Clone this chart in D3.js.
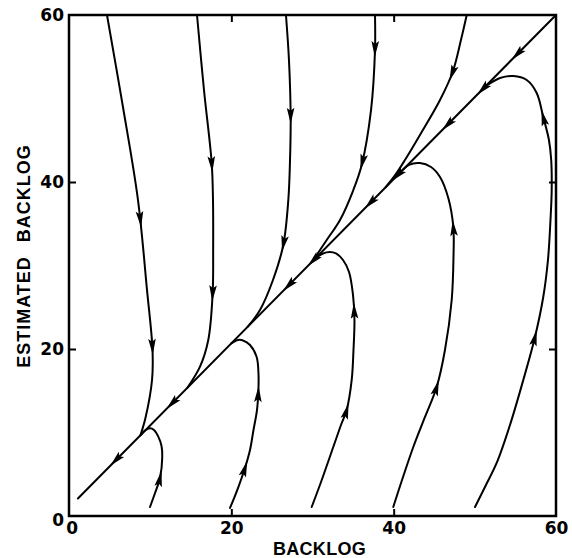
<!DOCTYPE html>
<html><head><meta charset="utf-8">
<script src="https://cdn.jsdelivr.net/npm/d3@7"></script>
<style>body{margin:0;background:#fff}</style>
</head><body><svg id="c" width="572" height="558"></svg>
<script>
// ---- data (BACKLOG, ESTIMATED BACKLOG) ----
const xTickLabels = [0, 20, 40, 60];
const yTickLabels = [0, 20, 40, 60];
const innerTicks = [20, 40];

const diagonal = [[60, 60], [1.1, 2.1]];

const traj1 = [[4.68,60],[6.65,48.98],[8.50,37.84],[9.61,27.07],[10.29,19.88],[10.23,16.29],[9.42,11.74],[8.8,9.67]];
const traj2 = [[15.77,60],[16.63,51.02],[17.58,42.28],[17.74,37.84],[17.76,31.86],[17.70,26.71],[17.16,21.08],[16.14,17.88],[14.6,15.37]];
const traj3 = [[26.73,60],[27.10,54.61],[27.31,47.78],[27.23,42.63],[27.02,37.84],[26.40,32.46],[25.13,28.26],[23.53,24.67],[22.0,22.64]];
const traj4 = [[37.70,60],[37.70,55.81],[37.21,48.62],[36.06,42.04],[35.03,39.04],[33.39,35.45],[31.75,33.05],[30.0,30.5]];
const traj5 = [[49.0,60],[48.29,57.0],[47.27,53.17],[45.71,49.82],[43.24,45.63],[41.39,42.63],[40.2,40.85],[39.0,39.36]];

const loop1 = [[9.98,1.08],[10.60,2.75],[11.21,4.55],[11.49,7.07],[11.40,8.38],[11.00,9.50],[10.47,10.30],[9.98,10.50],[9.36,10.24],[8.8,9.67]];
const loop2 = [[19.84,0.96],[20.82,3.35],[21.68,5.75],[22.30,7.90],[22.73,10.30],[23.16,12.69],[23.32,14.73],[23.35,16.89],[23.12,19.04],[22.30,20.48],[21.44,21.02],[20.82,21.08],[20.0,20.68]];
const loop3 = [[29.90,1.08],[31.05,4.07],[32.56,8.26],[33.51,10.90],[34.21,12.69],[34.83,16.29],[35.05,19.88],[35.17,23.47],[34.99,26.47],[34.50,29.22],[33.76,30.66],[32.89,31.44],[32.15,31.62],[31.29,31.44],[30.3,30.80]];
const loop4 = [[39.95,1.08],[41.03,4.31],[42.42,8.26],[43.86,11.86],[45.30,15.45],[46.32,19.88],[47.15,25.87],[47.37,31.02],[47.35,34.61],[46.73,38.08],[45.71,40.60],[44.60,41.80],[43.24,42.27],[41.89,42.05],[40.6,40.93]];
const loop5 = [[50.02,1.08],[51.37,3.71],[52.69,6.35],[54.33,10.90],[55.97,16.29],[57.41,21.44],[58.43,26.23],[59.01,30.66],[59.32,35.45],[59.47,39.04],[59.41,42.63],[59.13,45.03],[58.43,47.78],[57.62,50.66],[56.39,52.21],[54.74,52.69],[53.10,52.45],[51.3,51.45]];

// arrow positions (travel direction follows point order)
const diagArrows = [[5.67,6.59],[12.65,13.45],[26.98,27.54],[30.06,30.57],[37.08,37.47],[40.41,40.74],[46.57,46.80],[50.88,51.03],[55.19,55.27]];
const arrows1 = [[8.87,35.45],[10.31,20.12]];
const arrows2 = [[17.58,42.04],[17.74,26.59]];
const arrows3 = [[27.29,47.78],[26.40,32.46]];
const arrows4 = [[37.70,55.81],[35.97,42.27]];
const arrows5 = [[47.27,52.93]];
const loopArrows1 = [[11.21,4.55]];
const loopArrows2 = [[21.68,5.75],[23.32,14.73]];
const loopArrows3 = [[34.21,12.69],[35.24,24.67]];
const loopArrows4 = [[45.30,15.45],[47.35,34.61]];
const loopArrows5 = [[57.41,21.44],[58.43,47.78]];

const curves = [
  {pts: diagonal, arrows: diagArrows, linear: true},
  {pts: traj1, arrows: arrows1}, {pts: traj2, arrows: arrows2}, {pts: traj3, arrows: arrows3},
  {pts: traj4, arrows: arrows4}, {pts: traj5, arrows: arrows5},
  {pts: loop1, arrows: loopArrows1}, {pts: loop2, arrows: loopArrows2}, {pts: loop3, arrows: loopArrows3},
  {pts: loop4, arrows: loopArrows4}, {pts: loop5, arrows: loopArrows5}
];

// ---- drawing ----
const svg = d3.select('#c');
const x = d3.scaleLinear().domain([0, 60]).range([69, 556]);
const y = d3.scaleLinear().domain([0, 60]).range([516, 15]);

const tickFont = '"DejaVu Sans", sans-serif';
const titleFont = '"Liberation Sans", Arial, sans-serif';

// inward tick marks on all four sides
svg.append('g').attr('transform', `translate(${x(0)},0)`)
  .call(d3.axisLeft(y).tickValues(innerTicks).tickSize(-7).tickFormat(''))
  .call(g => g.select('.domain').remove());
svg.append('g').attr('transform', `translate(${x(60)},0)`)
  .call(d3.axisRight(y).tickValues(innerTicks).tickSize(-7).tickFormat(''))
  .call(g => g.select('.domain').remove());
svg.append('g').attr('transform', `translate(0,${y(0)})`)
  .call(d3.axisBottom(x).tickValues(innerTicks).tickSize(-7).tickFormat(''))
  .call(g => g.select('.domain').remove());
svg.append('g').attr('transform', `translate(0,${y(60)})`)
  .call(d3.axisTop(x).tickValues(innerTicks).tickSize(-7).tickFormat(''))
  .call(g => g.select('.domain').remove());
svg.selectAll('.tick line').attr('stroke', '#000').attr('stroke-width', 2);

// tick labels
const yl = svg.append('g').attr('transform', `translate(${x(0)},0)`)
  .call(d3.axisLeft(y).tickValues(yTickLabels).tickSize(0).tickPadding(5).tickFormat(d3.format('d')));
yl.select('.domain').remove();
yl.selectAll('text').attr('font-family', tickFont).attr('font-weight', 'bold').attr('font-size', 17).attr('fill', '#000');
yl.selectAll('.tick').filter(d => d === 0).select('text').attr('dy', '0.55em');

const xl = svg.append('g').attr('transform', `translate(0,${y(0)})`)
  .call(d3.axisBottom(x).tickValues(xTickLabels).tickSize(0).tickPadding(6).tickFormat(d3.format('d')));
xl.select('.domain').remove();
xl.selectAll('text').attr('font-family', tickFont).attr('font-weight', 'bold').attr('font-size', 17).attr('fill', '#000');
xl.selectAll('.tick').filter(d => d === 0).select('text').attr('dx', '0.15em');

// frame
svg.append('rect')
  .attr('x', x(0)).attr('y', y(60))
  .attr('width', x(60) - x(0)).attr('height', y(0) - y(60))
  .attr('fill', 'none').attr('stroke', '#000').attr('stroke-width', 2.5);

// axis titles
svg.append('text').attr('x', (x(0) + x(60)) / 2 + 7).attr('y', 555)
  .attr('text-anchor', 'middle').attr('font-family', titleFont).attr('font-weight', 'bold')
  .attr('font-size', 18).attr('letter-spacing', 0.3).text('BACKLOG');
svg.append('text').attr('transform', 'translate(30,256) rotate(-90)')
  .attr('text-anchor', 'middle').attr('font-family', titleFont).attr('font-weight', 'bold')
  .attr('font-size', 18).attr('letter-spacing', 1).attr('word-spacing', 8).text('ESTIMATED BACKLOG');

// curves + arrows
const lineSmooth = d3.line().x(d => x(d[0])).y(d => y(d[1])).curve(d3.curveCatmullRom.alpha(0.5));
const lineStraight = d3.line().x(d => x(d[0])).y(d => y(d[1]));
const cg = svg.append('g');
const ag = svg.append('g');

curves.forEach(c => {
  const p = cg.append('path')
    .attr('d', (c.linear ? lineStraight : lineSmooth)(c.pts))
    .attr('fill', 'none').attr('stroke', '#000').attr('stroke-width', 2)
    .attr('stroke-linecap', 'round').attr('stroke-linejoin', 'round');
  const node = p.node();
  const L = node.getTotalLength();
  const samples = d3.range(0, L, 1).map(s => ({s, pt: node.getPointAtLength(s)}));
  c.arrows.forEach(a => {
    const tx = x(a[0]), ty = y(a[1]);
    let best = samples[0], bd = Infinity;
    samples.forEach(o => {
      const dd = (o.pt.x - tx) ** 2 + (o.pt.y - ty) ** 2;
      if (dd < bd) { bd = dd; best = o; }
    });
    const p1 = node.getPointAtLength(Math.max(0, best.s - 4));
    const p2 = node.getPointAtLength(Math.min(L, best.s + 4));
    const ang = Math.atan2(p2.y - p1.y, p2.x - p1.x) * 180 / Math.PI;
    ag.append('path')
      .attr('d', 'M7,0 L-9,-3.8 L-6,0 L-9,3.8 Z')
      .attr('transform', `translate(${best.pt.x},${best.pt.y}) rotate(${ang})`)
      .attr('fill', '#000');
  });
});
</script>
</body></html>
